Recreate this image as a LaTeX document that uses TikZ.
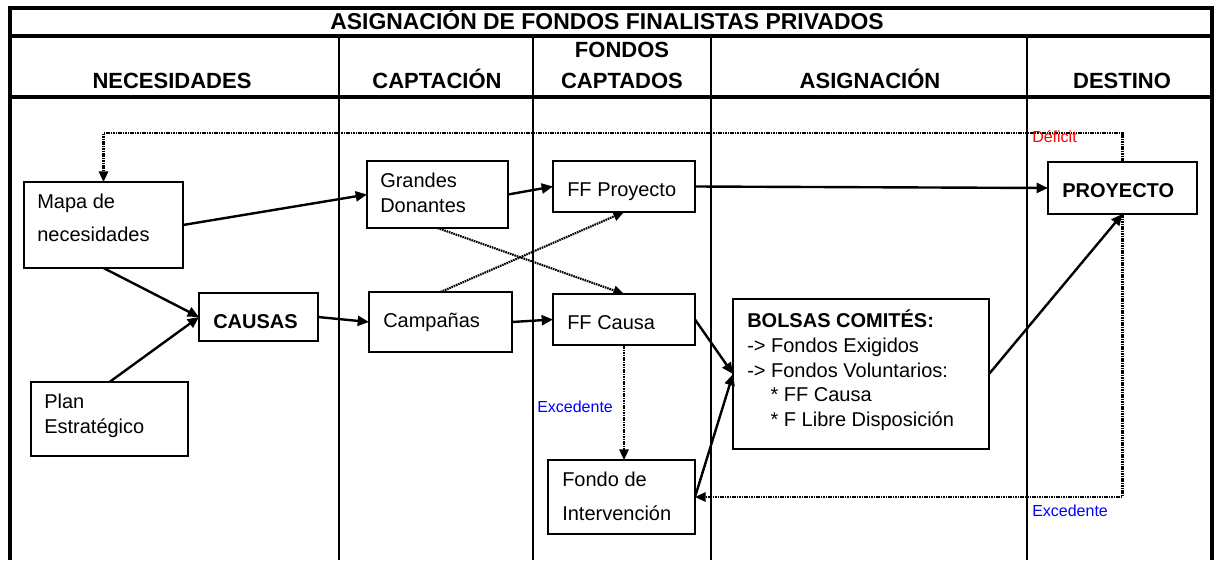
\documentclass[tikz,border=0pt]{standalone}
\usepackage{fontspec}
\setmainfont{Liberation Sans}
\usetikzlibrary{arrows.meta,fit}
\begin{document}
\begin{tikzpicture}[x=0.75pt,y=-0.75pt,
  frameline/.style={line width=2.3pt},
  colline/.style={line width=1.6pt},
  box/.style={draw, line width=0.9pt, rectangle, inner sep=0pt, outer sep=0pt},
  txt/.style={anchor=base west, inner sep=0pt, font=\fontsize{15}{17}\selectfont},
  btxt/.style={txt, font=\fontsize{15}{17}\selectfont\bfseries},
  hdr/.style={anchor=base, inner sep=0pt, font=\fontsize{16.5}{19}\selectfont\bfseries},
  note/.style={anchor=base west, inner sep=0pt, font=\fontsize{12}{14}\selectfont},
  solidarrow/.style={line width=1.8pt, -{Triangle[length=8.5pt,width=7.5pt]}},
  dotarrow/.style={line width=1.6pt, dash pattern=on 1.2pt off 0.6pt, -{Triangle[length=8pt,width=7pt]}}
]
\useasboundingbox (0,0) rectangle (1216,560);

% frame and grid
\draw[frameline] (10,560) -- (10,8) -- (1212,8) -- (1212,560);
\draw[frameline] (10,36) -- (1212,36);
\draw[frameline] (10,97) -- (1212,97);
\draw[colline] (339,36) -- (339,560);
\draw[colline] (533,36) -- (533,560);
\draw[colline] (711,36) -- (711,560);
\draw[colline] (1027,36) -- (1027,560);

% title and headers
\node[hdr, font=\fontsize{17.2}{19}\selectfont\bfseries] (title) at (607,29.5) {ASIGNACIÓN DE FONDOS FINALISTAS PRIVADOS};
\node[hdr] (h1) at (172,89) {NECESIDADES};
\node[hdr] (h2) at (437,89) {CAPTACIÓN};
\node[hdr] (h3a) at (622,58) {FONDOS};
\node[hdr] (h3b) at (622,89) {CAPTADOS};
\node[hdr] (h4) at (870,89) {ASIGNACIÓN};
\node[hdr] (h5) at (1122,89) {DESTINO};

% boxes
\node[box, fit={(24,182) (183,268)}] (mapa) {};
\node[box, fit={(367,161) (508,228)}] (gd) {};
\node[box, fit={(553,161) (695,212)}] (ffp) {};
\node[box, fit={(1048,162) (1197,214)}] (proy) {};
\node[box, fit={(199,293) (318,341)}] (causas) {};
\node[box, fit={(369,292) (512,352)}] (camp) {};
\node[box, fit={(553,294) (695,345)}] (ffc) {};
\node[box, fit={(31,382) (188,456)}] (plan) {};
\node[box, fit={(733,299) (989,449)}] (bolsas) {};
\node[box, fit={(548,460) (695,534)}] (fondo) {};

% box texts
\node[txt] (mapaA) at (37,208) {Mapa de};
\node[txt] (mapaB) at (37,241) {necesidades};
\node[txt] (gdA) at (380,187) {Grandes};
\node[txt] (gdB) at (380,212) {Donantes};
\node[txt] (ffpT) at (567,196) {FF Proyecto};
\node[btxt] (proyT) at (1062,197) {PROYECTO};
\node[btxt] (causasT) at (213,328) {CAUSAS};
\node[txt] (campT) at (383,327) {Campañas};
\node[txt] (ffcT) at (567,329) {FF Causa};
\node[txt] (planA) at (44,408) {Plan};
\node[txt] (planB) at (44,433) {Estratégico};
\node[txt] (fondoA) at (562,486) {Fondo de};
\node[txt] (fondoB) at (562,520) {Intervención};
\node[btxt] (bolA) at (747,327) {BOLSAS COMITÉS:};
\node[txt] (bolB) at (747,352) {-> Fondos Exigidos};
\node[txt] (bolC) at (747,377) {-> Fondos Voluntarios:};
\node[txt] (bolD) at (747,401) {\hspace*{17.5pt}* FF Causa};
\node[txt] (bolE) at (747,426) {\hspace*{17.5pt}* F Libre Disposición};

% solid connectors
\draw[solidarrow] (mapa.east) -- (gd.west);
\draw[solidarrow] (mapa.south) -- (causas.west);
\draw[solidarrow] (plan.north) -- (causas.west);
\draw[solidarrow] (causas.east) -- (camp.west);
\draw[solidarrow] (gd.east) -- (ffp.west);
\draw[solidarrow] (camp.east) -- (ffc.west);
\draw[solidarrow] (ffp.east) -- (proy.west);
\draw[solidarrow] (ffc.east) -- (bolsas.west);
\draw[solidarrow] (fondo.east) -- (bolsas.west);
\draw[solidarrow] (bolsas.east) -- (proy.south);

% dotted connectors
\draw[dotarrow] (gd.south) -- (ffc.north);
\draw[dotarrow] (camp.north) -- (ffp.south);
\draw[dotarrow] (proy.north) -- (proy.north |- 0,133) -| (mapa.north);
\draw[dotarrow] (ffc.south) -- (ffc.south |- fondo.north);
\draw[dotarrow] (proy.south) |- (fondo.east);

% labels
\node[note, text=red] (deficit) at (1032,142) {Déficit};
\node[note, text=blue] (exc1) at (537,412) {Excedente};
\node[note, text=blue] (exc2) at (1032,516) {Excedente};
\end{tikzpicture}
\end{document}
